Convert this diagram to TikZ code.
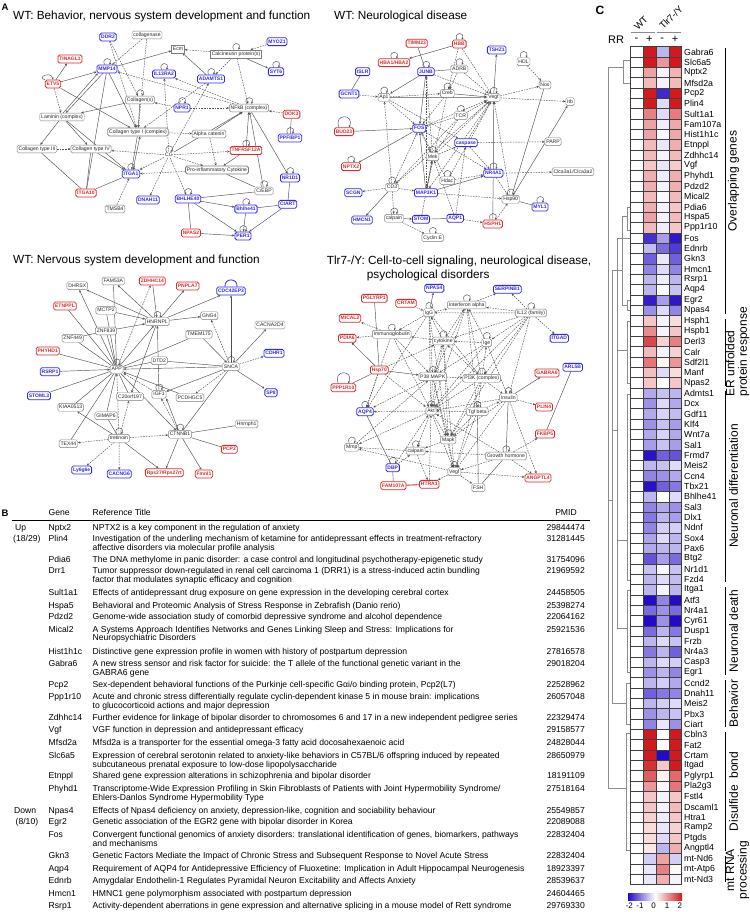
\documentclass[tikz,border=0pt]{standalone}
\usepackage{fontspec}
\setmainfont{Liberation Sans}
\usetikzlibrary{arrows.meta}
\pgfdeclarelayer{bg}
\pgfsetlayers{bg,main}
\definecolor{nblue}{RGB}{50,40,235}
\definecolor{nred}{RGB}{215,45,45}
\definecolor{ngray}{RGB}{125,125,125}
\definecolor{egray}{RGB}{80,80,80}
\definecolor{hmblue}{RGB}{35,10,200}
\definecolor{hmred}{RGB}{210,25,30}
\tikzset{
  gn/.style={draw=ngray, fill=white, rounded corners=1.6pt, line width=0.45pt, inner xsep=1.4pt, inner ysep=1.6pt, text height=3.7pt, text depth=1pt, font=\fontsize{5.1}{6}\selectfont, text=black!85},
  gb/.style={gn, line width=0.8pt},
  gr/.style={gn, rounded corners=0pt},
  bn/.style={gn, draw=nblue, text=nblue, line width=0.8pt, font=\fontsize{5}{6}\selectfont\bfseries},
  rn/.style={bn, draw=nred, text=nred},
  gt/.style={font=\fontsize{5.1}{6}\selectfont, inner sep=1pt, text=black!85},
  ea/.style={draw=egray, line width=0.45pt, -{Stealth[length=2.6pt,width=2.3pt]}},
  ed/.style={ea, dash pattern=on 1.6pt off 1.1pt},
  el/.style={draw=egray, line width=0.45pt},
  edl/.style={el, dash pattern=on 1.6pt off 1.1pt},
  lpst/.style={draw=egray, line width=0.45pt, -{Stealth[length=2.2pt,width=2pt]}},
  ttl/.style={font=\fontsize{11.8}{13}\selectfont, inner sep=0pt, anchor=west},
  plab/.style={font=\fontsize{9.5}{10}\selectfont\bfseries, inner sep=0pt},
  tc/.style={font=\fontsize{8.6}{9}\selectfont, inner sep=0pt, anchor=base west},
  tp/.style={tc, anchor=base east},
  hml/.style={font=\fontsize{8.8}{9}\selectfont, inner sep=0pt, anchor=west},
  grp/.style={font=\fontsize{12}{12.5}\selectfont, inner sep=0pt, rotate=90},
  dg/.style={draw=black!45, line width=0.6pt},
  gl/.style={draw=black, line width=0.6pt},
  cellgrid/.style={draw=black!75, line width=0.35pt},
}
\newcommand\nwloop[1]{\draw[lpst] ([xshift=-2.5pt]#1.north) .. controls +(-3.5,-8) and +(3.5,-8) .. ([xshift=2.5pt]#1.north);}
\newcommand\nwloopB[1]{\draw[lpst] ([xshift=-5pt]#1.north) .. controls +(-6,-14) and +(6,-14) .. ([xshift=5pt]#1.north);}
\newcommand\tabrow[5]{\node[tc] (tg#1) at (48.5,#2+3) {#3}; \node[tc] (tt#1) at (92.5,#2+3) {#4}; \node[tp] (tp#1) at (585,#2+3) {#5};}
\newcommand\tabsec[3]{\node[tc] (ts#1) at (92.5,#2+3) {#3};}
\newcommand\hmcell[3]{%
  \pgfmathsetmacro\hmp{min(100,abs(#3)*50)}%
  \pgfmathtruncatemacro\hmneg{(#3)<0?1:0}%
  \ifnum\hmneg=1 \def\hmc{hmblue}\else\def\hmc{hmred}\fi
  \fill[\hmc!\hmp!white] (#1,#2) rectangle ++(12.9,10.345);%
}
\begin{document}
\begin{tikzpicture}[x=1pt,y=-1pt]
\useasboundingbox (0,0) rectangle (749,912);
\begin{pgfonlayer}{bg}
\fill[white] (0,0) rectangle (749,912);
\end{pgfonlayer}

% ================= PANEL A =================
\node[plab] (labA) at (5,7) {A};
\node[ttl] (t1) at (13,16.7) {WT: Behavior, nervous system development and function};
\node[ttl] (t2) at (334,16.7) {WT: Neurological disease};
\node[ttl] (t3) at (13,260.7) {WT: Nervous system development and function};
\node[ttl] (t4) at (326.7,261) {Tlr7-/Y: Cell-to-cell signaling, neurological disease,};
\node[ttl] (t4b) at (366.7,275.5) {psychological disorders};

% ---- Network 1
\node[bn] (aDDR2) at (108,37) {DDR2};
\node[gn] (acoll) at (147,35) {collagenase};
\node[gr] (aEcm) at (178,49) {Ecm};
\node[gr, line width=0.8pt] (aCalc) at (236,54) {Calcineurin protein(s)};
\node[bn] (aMYOZ1) at (277,41.7) {MYOZ1};
\node[bn] (aSYT6) at (276,71.7) {SYT6};
\node[rn] (aTINAGL1) at (70,59) {TINAGL1};
\node[bn] (aMMP14) at (107,69) {MMP14};
\node[rn] (aETV5) at (53,84) {ETV5};
\node[bn] (aIL13) at (164,74) {IL13RA2};
\node[bn] (aADAM) at (211,79) {ADAMTS1};
\node[gn] (aColS) at (140,100) {Collagen(s)};
\node[bn] (aNPR1) at (182,108) {NPR1};
\node[gn] (aNFkB) at (249,108) {NFkB (complex)};
\node[rn] (aDOK3) at (291.5,114.3) {DOK3};
\node[gn] (aLam) at (62,117) {Laminin (complex)};
\node[gb] (aCol1) at (138,132) {Collagen type I (complex)};
\node[gn] (aAlpha) at (209,134) {Alpha catenin};
\node[bn] (aPPF) at (290,138) {PPFIBP1};
\node[rn] (aTNF) at (246,150.5) {TNFRSF12A};
\node[gn] (aCol3) at (37,149) {Collagen type III};
\node[gn] (aCol4) at (91,149) {Collagen type IV};
\node[gt] (aCG) at (169,155) {CG};
\node[gb] (aPro) at (217,170) {Pro-inflammatory Cytokine};
\node[bn] (aITGA1) at (131,174) {ITGA1};
\node[bn] (aNR1D1) at (290,178) {NR1D1};
\node[gn] (aCEBP) at (264,191) {C/EBP};
\node[rn] (aITGA10) at (86,193) {ITGA10};
\node[bn] (aDNAH11) at (148,200) {DNAH11};
\node[bn] (aBHLHE40) at (188,199) {BHLHE40};
\node[bn] (aCIART) at (287.7,204.3) {CIART};
\node[gn] (aTMSB4) at (115,209) {TMSB4};
\node[bn] (aBhlhe41) at (246,209) {Bhlhe41};
\node[rn] (aNPAS2) at (191,233) {NPAS2};
\node[bn] (aPER1) at (243,236) {PER1};

% ---- Network 2
\node[rn] (bTIMM23) at (416.7,43.3) {TIMM23};
\node[rn] (bHBB) at (459.3,44) {HBB};
\node[bn] (bTSHZ1) at (496.7,50) {TSHZ1};
\node[gn] (bHDL) at (523.5,61.7) {HDL};
\node[rn] (bHBA) at (394,62.7) {HBA1/HBA2};
\node[bn] (bISLR) at (362.7,71.7) {ISLR};
\node[bn] (bJUNB) at (426,71.7) {JUNB};
\node[gn] (bADRB) at (459.3,69) {ADRB};
\node[gn] (bNos) at (545,85) {Nos};
\node[bn] (bGCNT1) at (349,94) {GCNT1};
\node[gn] (bAp1) at (384,97.3) {Ap1};
\node[gn] (bCreb) at (447.3,93.3) {Creb};
\node[gn] (bVegf) at (493.5,97.5) {Vegf};
\node[gn] (bItb) at (570,101.7) {Itb};
\node[gn] (bTCR) at (460.7,115.7) {TCR};
\node[rn] (bBUD23) at (344,131.7) {BUD23};
\node[bn] (bFOS) at (419.3,128.3) {FOS};
\node[bn] (bcasp) at (466,142.7) {caspase};
\node[gn] (bPARP) at (553,141.7) {PARP};
\node[rn] (bNPTX2) at (351,166.7) {NPTX2};
\node[gn] (bMek) at (432.7,156.7) {Mek};
\node[bn] (bNR4A1) at (493.3,173.3) {NR4A1};
\node[gn] (bClca) at (573,171.7) {Clca3a1/Clca3a2};
\node[gn] (bHdac) at (447.3,180.7) {Hdac};
\node[gn] (bCD3) at (392,187.3) {CD3};
\node[bn] (bSCGN) at (353.3,192.7) {SCGN};
\node[bn] (bMAP3K1) at (426,192.7) {MAP3K1};
\node[gn] (bHsp90) at (510.7,199.3) {Hsp90};
\node[bn] (bMYL1) at (540,207) {MYL1};
\node[bn] (bHMCN1) at (362,220) {HMCN1};
\node[gn] (bcalp) at (394,218.3) {calpain};
\node[bn] (bSTOM) at (421,219.3) {STOM};
\node[bn] (bAQP1) at (455.3,218.3) {AQP1};
\node[rn] (bHSPH1) at (492.7,224) {HSPH1};
\node[gn] (bCycE) at (432.7,237.7) {Cyclin E};

% ---- Network 3
\node[gn] (cDHRSX) at (77.3,285.7) {DHRSX};
\node[gn] (cFAM53A) at (113.3,281) {FAM53A};
\node[rn] (cZDHHC14) at (152.3,281) {ZDHHC14};
\node[rn] (cPNPLA7) at (187.7,286) {PNPLA7};
\node[bn] (cCDC42EP3) at (231,291) {CDC42EP3};
\node[rn] (cETNPPL) at (65,306) {ETNPPL};
\node[gn] (cMCTP2) at (106,310.3) {MCTP2};
\node[gn] (cHNRNPL) at (157.3,321.7) {HNRNPL};
\node[gn] (cGNG4) at (209.3,315.7) {GNG4};
\node[gn] (cCACNA) at (270,325) {CACNA2D4};
\node[gn] (cZNF839) at (106,331) {ZNF839};
\node[gn] (cZNF449) at (72.7,338.3) {ZNF449};
\node[gn] (cTMEM) at (199,334.3) {TMEM175};
\node[rn] (cPHYHD1) at (47.7,351) {PHYHD1};
\node[gn] (cDTD2) at (159.3,360.7) {DTD2};
\node[gn] (cAPP) at (116.7,369.3) {APP};
\node[gn] (cSNCA) at (231,366.7) {SNCA};
\node[bn] (cCDHR1) at (274,353.3) {CDHR1};
\node[bn] (cRSRP1) at (50,371.7) {RSRP1};
\node[bn] (cSTOML3) at (39,395.7) {STOML3};
\node[gn] (cC20) at (130,396.7) {C20orf197};
\node[gn] (cIGF1) at (159,394.3) {IGF1};
\node[gn] (cPCDH) at (190,397.7) {PCDHGC5};
\node[bn] (cSP8) at (271,392.7) {SP8};
\node[gn] (cKIAA) at (70.7,407.3) {KIAA0513};
\node[gn] (cGIMAP6) at (106,415.7) {GIMAP6};
\node[gn] (cHnrnph1) at (246.7,424) {Hnrnph1};
\node[gn] (cCTNNB1) at (180,434.3) {CTNNB1};
\node[gn] (ctret) at (119,438.3) {tretinoin};
\node[gn] (cTEX44) at (68.3,443.7) {TEX44};
\node[rn] (cPCP2) at (229.3,449.3) {PCP2};
\node[bn] (cLy6) at (81.7,470) {Ly6g6e};
\node[bn] (cCACNG6) at (119.3,474) {CACNG6};
\node[rn] (cRps) at (164.3,472.7) {Rps27/Rps27rt};
\node[rn] (cFmnl1) at (204,474) {Fmnl1};

% ---- Network 4
\node[bn] (dNPAS4) at (434.3,288.3) {NPAS4};
\node[bn] (dSERP) at (507.3,289.3) {SERPINB1};
\node[rn] (dPGLY) at (374.3,298.3) {PGLYRP1};
\node[rn] (dCRTAM) at (406,303.3) {CRTAM};
\node[gn] (dIFNa) at (466.7,305) {Interferon alpha};
\node[gn] (dIgG) at (429,312.7) {IgG};
\node[gn] (dIL12) at (531,313) {IL12 (family)};
\node[rn] (dMICAL2) at (350,318.3) {MICAL2};
\node[gn] (dImm) at (391.7,334.3) {Immunoglobulin};
\node[gn] (dcyto) at (443.3,341) {cytokine};
\node[gn] (dIge) at (486.7,342.7) {Ige};
\node[rn] (dPDIA6) at (347.3,338.3) {PDIA6};
\node[bn] (dITGAD) at (559.3,338.3) {ITGAD};
\node[rn] (dHsp70) at (379.3,370) {Hsp70};
\node[gn] (dP38) at (432.7,376.7) {P38 MAPK};
\node[gn] (dPI3K) at (481.7,378.3) {PI3K (complex)};
\node[bn] (dARL5B) at (572.7,367.3) {ARL5B};
\node[rn] (dGABRA6) at (547,373) {GABRA6};
\node[rn] (dPPP1R10) at (343.3,387.7) {PPP1R10};
\node[gn] (dIns) at (508.3,397.7) {Insulin};
\node[rn] (dPLIN4) at (544,407) {PLIN4};
\node[bn] (dAQP4) at (365,411.7) {AQP4};
\node[gn] (dAkt) at (431,411) {Akt};
\node[gn] (dTgf) at (477.3,411.7) {Tgf beta};
\node[rn] (dFKBP5) at (545,434) {FKBP5};
\node[gn] (dMmp) at (351.7,447.3) {Mmp};
\node[gn] (dMapk) at (448.3,440) {Mapk};
\node[gn] (dcalp) at (415.7,451) {calpain};
\node[gn] (dGH) at (506,456) {Growth hormone};
\node[rn] (dANG) at (538,478) {ANGPTL4};
\node[bn] (dDBP) at (392.7,467.7) {DBP};
\node[gn] (dVegf) at (454.3,471.7) {Vegf};
\node[rn] (dFAM) at (393.3,485.7) {FAM107A};
\node[rn] (dHTRA1) at (429.3,484.3) {HTRA1};
\node[gn] (dFSH) at (478.3,487.7) {FSH};

\begin{pgfonlayer}{bg}
% net 1 edges
\draw[ea] (aETV5) -- (aTINAGL1);
\draw[ea] (aETV5) -- (aMMP14);
\draw[ed] (aETV5) -- (aLam);
\draw[ea] (aETV5) -- (aCol1);
\draw[ea] (aMMP14) -- (aEcm);
\draw[ea] (aMMP14) -- (aLam);
\draw[ea] ([xshift=1.2pt]aLam.north) -- ([xshift=1.2pt]aMMP14.south west);
\draw[ea] (aMMP14) -- (aCol1);
\draw[ed] (aDDR2) -- (aCol1);
\draw[ed] (aDDR2) -- (aColS);
\draw[ed] (acoll) -- (aCol1);
\draw[ed] (acoll) -- (aMMP14);
\draw[ed] (aCalc) -- (aEcm);
\draw[ea] (aADAM) -- (aEcm);
\draw[ed] (aMYOZ1) -- (aCalc);
\draw[ea] (aCalc) -- (aSYT6);
\draw[ed] (aCalc) -- (aNFkB);
\draw[ed] (aCalc) -- (aADAM);
\draw[ed] (aNFkB) -- (aIL13);
\draw[ed] (aNFkB) -- (aMMP14);
\draw[ed] (aNPR1) -- (aColS);
\draw[ed] (aNPR1) -- (aNFkB);
\draw[ed] (aCG) -- (aIL13);
\draw[ed] (aCG) -- (aADAM);
\draw[ea] (aCG) -- (aNFkB);
\draw[ed] (aCG) -- (aCol4);
\draw[ed] (aCG) -- (aITGA1);
\draw[ed] (aCG) -- (aDNAH11);
\draw[ed] (aCG) -- (aBHLHE40);
\draw[ed] (aCG) -- (aPro);
\draw[ed] (aCG) -- (aTNF);
\draw[ea] (aLam) -- (aCol3);
\draw[ea] (aLam) -- (aCol4);
\draw[ea] (aLam) -- (aITGA1);
\draw[ed] (aCol3) -- (aCol4);
\draw[ea] (aCol4) -- (aITGA1);
\draw[ea] (aCol1) -- (aITGA1);
\draw[ea] ([xshift=2pt]aITGA1.north) -- ([xshift=2pt]aCol1.south);
\draw[ed] (aCol1) -- (aAlpha);
\draw[ea] (aColS) -- (aLam);
\draw[ea] (aColS) -- (aCol1);
\draw[ea] (aAlpha) -- (aNFkB);
\draw[ed] (aAlpha) -- (aPro);
\draw[ed] (aADAM) -- (aCol1);
\draw[ed] (aPro) -- (aITGA1);
\draw[ea] (aTNF) -- (aNFkB);
\draw[ea] (aTNF) -- (aPro);
\draw[ed] (aDOK3) -- (aNFkB);
\draw[el] (aPPF) -- (aDOK3);
\draw[ea] (aNFkB) -- (aNR1D1);
\draw[ea] (aCEBP) -- (aNFkB);
\draw[el] (aCEBP) -- (aPro);
\draw[el] (aCEBP) -- (aBHLHE40);
\draw[ea] (aBHLHE40) -- (aBhlhe41);
\draw[ea] (aBHLHE40) -- (aPER1);
\draw[el] (aNPAS2) -- (aBHLHE40);
\draw[ea] (aNPAS2) -- (aPER1);
\draw[ea] (aBhlhe41) -- (aPER1);
\draw[ea] (aCIART) -- (aPER1);
\draw[el] (aCIART) -- (aNR1D1);
\draw[el] (aCIART) -- (aBhlhe41);
\draw[el] (aITGA10) -- (aCol3);
\draw[el] (aITGA10) -- (aCol4);
\draw[el] (aITGA10) -- (aMMP14);
\draw[el] (aITGA10) -- (aITGA1);
\draw[ed] (aTMSB4) -- (aITGA1);
\foreach \n in {aMMP14,aIL13,aNPR1,aColS,aNFkB,aTNF,aCalc,aSYT6,aPPF,aNR1D1,aCEBP,aITGA1,aBHLHE40,aBhlhe41,aPER1,aCG,aADAM} {\nwloop{\n}}
\draw[lpst] (aETV5.north west) .. controls +(-9,-2) and +(-2,-9) .. (aETV5.north);

% net 2 edges
\draw[ea] (bHBB) -- (bHBA);
\draw[el] (bTIMM23) -- (bJUNB);
\draw[ed] (bHBB) -- (bVegf);
\draw[ed] (bHBB) -- (bCreb);
\draw[el] (bJUNB) -- (bADRB);
\draw[ed] (bADRB) -- (bVegf);
\draw[ed] (bADRB) -- (bCreb);
\draw[ea] (bVegf) -- (bTSHZ1);
\draw[ed] (bHDL) -- (bNos);
\draw[ed] (bVegf) -- (bNos);
\draw[ed] (bVegf) -- (bItb);
\draw[el] (bGCNT1) -- (bISLR);
\draw[ed] (bGCNT1) -- (bAp1);
\draw[ea] (bJUNB) -- (bAp1);
\draw[ea] (bJUNB) -- (bFOS);
\draw[ea] (bAp1) -- (bVegf);
\draw[ed] (bAp1) -- (bFOS);
\draw[ed] (bCreb) -- (bFOS);
\draw[ea] (bCreb) -- (bVegf);
\draw[ed] (bTCR) -- (bFOS);
\draw[ed] (bTCR) -- (bVegf);
\draw[ea] (bBUD23) -- (bFOS);
\draw[ea] (bFOS) -- (bNPTX2);
\draw[ed] (bFOS) -- (bMek);
\draw[ed] (bFOS) -- (bNR4A1);
\draw[ed] (bcasp) -- (bNR4A1);
\draw[ed] (bcasp) -- (bPARP);
\draw[ed] (bcasp) -- (bVegf);
\draw[ea] (bNR4A1) -- (bVegf);
\draw[ed] (bNR4A1) -- (bHsp90);
\draw[ed] (bHsp90) -- (bVegf);
\draw[el] (bHsp90) -- (bNos);
\draw[ea] (bHsp90) -- (bItb);
\draw[ed] (bNR4A1) -- (bClca);
\draw[ed] (bCD3) -- (bSCGN);
\draw[ea] (bCD3) -- (bHMCN1);
\draw[ed] (bCD3) -- (bMAP3K1);
\draw[ed] (bCD3) -- (bFOS);
\draw[ed] (bCD3) -- (bAp1);
\draw[ed] (bCD3) -- (bcalp);
\draw[ea] (bMAP3K1) -- (bFOS);
\draw[ea] (bMAP3K1) -- (bMek);
\draw[ea] (bMAP3K1) -- (bNR4A1);
\draw[ed] (bMAP3K1) -- (bHsp90);
\draw[ed] (bMAP3K1) -- (bJUNB);
\draw[ea] (bcalp) -- (bSTOM);
\draw[ed] (bcalp) -- (bCycE);
\draw[el] (bSTOM) -- (bAQP1);
\draw[ed] (bAQP1) -- (bHSPH1);
\draw[ed] (bAQP1) -- (bcasp);
\draw[el] (bHSPH1) -- (bNR4A1);
\draw[ed] (bHSPH1) -- (bHsp90);
\draw[ed] (bHdac) -- (bFOS);
\draw[ed] (bHdac) -- (bNR4A1);
\draw[el] (bHsp90) -- (bMYL1);
\draw[ed] (bMek) -- (bcasp);
\draw[ed] (bMek) -- (bVegf);
\draw[ed] (bMek) -- (bJUNB);
\draw[ed] (bTCR) -- (bMek);
\draw[ed] (bTCR) -- (bCD3);
\draw[ed] (bAp1) -- (bCreb);
\draw[ed] (bFOS) -- (bVegf);
\draw[ed] (bJUNB) -- (bVegf);
\draw[ed] (bAp1) -- (bcasp);
\draw[ed] (bSTOM) -- (bMek);
\draw[ed] (bAQP1) -- (bMek);
\draw[ed] (bCreb) -- (bMAP3K1);
\draw[ed] (bVegf) -- (bMAP3K1);
\draw[ed] (bHdac) -- (bVegf);
\draw[ed] (bCD3) -- (bVegf);
\foreach \n in {bHBB,bHBA,bJUNB,bADRB,bHDL,bVegf,bAp1,bCreb,bTCR,bNPTX2,bMek,bNR4A1,bCD3,bHdac,bHsp90,bHSPH1,bCycE,bcalp,bMYL1} {\nwloop{\n}}
\nwloopB{bBUD23}

% net 3 edges
\draw[ea] (cAPP) -- (cDHRSX);
\draw[el] (cFAM53A) -- (cAPP);
\draw[el] (cETNPPL) -- (cAPP);
\draw[el] (cMCTP2) -- (cAPP);
\draw[el] (cZNF839) -- (cAPP);
\draw[el] (cZNF449) -- (cAPP);
\draw[el] (cPHYHD1) -- (cAPP);
\draw[ea] (cRSRP1) -- (cAPP);
\draw[el] (cSTOML3) -- (cAPP);
\draw[el] (cKIAA) -- (cAPP);
\draw[el] (cGIMAP6) -- (cAPP);
\draw[el] (cTEX44) -- (cAPP);
\draw[el] (cDTD2) -- (cAPP);
\draw[ea] (cSNCA) -- (cAPP);
\draw[el] (cTMEM) -- (cAPP);
\draw[ea] (cAPP) -- (cCTNNB1);
\draw[ed] (cIGF1) -- (cAPP);
\draw[el] (cC20) -- (cAPP);
\draw[ed] (ctret) -- (cAPP);
\draw[ed] (cAPP) -- (cZDHHC14);
\draw[ea] (cAPP) -- (cHNRNPL);
\draw[ea] (cHNRNPL) -- (cFAM53A);
\draw[ea] (cHNRNPL) -- (cDHRSX);
\draw[ea] (cZDHHC14) -- (cHNRNPL);
\draw[ea] (cHNRNPL) -- (cPNPLA7);
\draw[ea] (cHNRNPL) -- (cGNG4);
\draw[ea] (cHNRNPL) -- (cCDC42EP3);
\draw[ea] (cMCTP2) -- (cHNRNPL);
\draw[ea] (cZNF839) -- (cHNRNPL);
\draw[ea] (cHNRNPL) -- (cC20);
\draw[el] (cZNF449) -- (cZNF839);
\draw[ea] (cIGF1) -- (cHNRNPL);
\draw[ea] (cSNCA) -- (cCDC42EP3);
\draw[ed] (cSNCA) -- (cGNG4);
\draw[ea] (cTMEM) -- (cSNCA);
\draw[el] (cDTD2) -- (cSNCA);
\draw[ea] (cSNCA) -- (cCACNA);
\draw[ed] (cSNCA) -- (cCDHR1);
\draw[ea] (cSNCA) -- (cSP8);
\draw[ed] (cSNCA) -- (cPCDH);
\draw[ea] (cSNCA) -- (cIGF1);
\draw[el] (cSNCA) -- (cCTNNB1);
\draw[ed, {Stealth[length=2.6pt,width=2.3pt]}-{Stealth[length=2.6pt,width=2.3pt]}] (cIGF1) -- (cCTNNB1);
\draw[ed] (ctret) -- (cCTNNB1);
\draw[ea] (cCTNNB1) -- (cRps);
\draw[ea] (cCTNNB1) -- (cFmnl1);
\draw[el] (cCTNNB1) -- (cHnrnph1);
\draw[el] (cCTNNB1) -- (cPCP2);
\draw[ed] (ctret) -- (cTEX44);
\draw[ed] (ctret) -- (cLy6);
\draw[ed] (ctret) -- (cCACNG6);
\draw[ea] (ctret) -- (cRps);
\draw[ea] (ctret) -- (cKIAA);
\draw[ed] (ctret) -- (cC20);
\draw[el] (ctret) -- (cGIMAP6);
\draw[ea] (cPCDH) -- (cAPP);
\draw[ea] (cCTNNB1) -- (cIGF1.south east);
\foreach \n in {cHNRNPL,cAPP,cIGF1,cSNCA,cCTNNB1,ctret} {\nwloop{\n}}
\draw[draw=nblue, line width=0.8pt] ([xshift=-6pt]cCDC42EP3.north) .. controls +(-1,-9) and +(1,-9) .. ([xshift=6pt]cCDC42EP3.north);

% net 4 edges
\draw[ea] (dIgG) -- (dNPAS4);
\draw[ed] (dIFNa) -- (dSERP);
\draw[ed] (dIgG) -- (dIFNa);
\draw[ed] (dIL12) -- (dIFNa);
\draw[ed] (dIL12) -- (dIgG);
\draw[ed] (dIL12) -- (dSERP);
\draw[ed] (dIL12) -- (dITGAD);
\draw[ed] (dIL12) -- (dIge);
\draw[ed] (dIL12) -- (dcyto);
\draw[ed] (dIL12) -- (dPI3K);
\draw[ed] (dIL12) -- (dIns);
\draw[ed] (dImm) -- (dMICAL2);
\draw[ed] (dImm) -- (dPDIA6);
\draw[ed] (dIgG) -- (dImm);
\draw[el] (dPGLY) -- (dHsp70);
\draw[ed] (dCRTAM) -- (dIgG);
\draw[ed] (dcyto) -- (dImm);
\draw[ed] (dcyto) -- (dIgG);
\draw[ed] (dcyto) -- (dIFNa);
\draw[ed] (dIge) -- (dcyto);
\draw[ed] (dIge) -- (dIFNa);
\draw[ed] (dP38) -- (dcyto);
\draw[ed] (dPI3K) -- (dcyto);
\draw[ed] (dPI3K) -- (dIge);
\draw[ed] (dPI3K) -- (dIFNa);
\draw[ea] (dHsp70) -- (dPDIA6);
\draw[el] (dHsp70) -- (dPPP1R10);
\draw[ea] (dHsp70) -- (dP38);
\draw[ed] (dHsp70) -- (dAQP4);
\draw[ed] (dHsp70) -- (dAkt);
\draw[ed] (dHsp70) -- (dcyto);
\draw[ed] (dP38) -- (dPI3K);
\draw[ed] (dP38) -- (dAkt);
\draw[ed] (dPI3K) -- (dAkt);
\draw[ed] (dPI3K) -- (dIns);
\draw[ed] (dPI3K) -- (dTgf);
\draw[ea] (dIns) -- (dGABRA6);
\draw[ed] (dIns) -- (dPLIN4);
\draw[ed] (dIns) -- (dAkt);
\draw[el] (dIns) -- (dGH);
\draw[el] (dARL5B) -- (dFKBP5);
\draw[ed] (dGH) -- (dANG);
\draw[ed] (dGH) -- (dFKBP5);
\draw[ed] (dGH) -- (dVegf);
\draw[ed] (dGH) -- (dAkt);
\draw[ed] (dGH) -- (dcalp);
\draw[el] (dGH) -- (dFSH);
\draw[ed] (dTgf) -- (dAkt);
\draw[ed] (dTgf) -- (dVegf);
\draw[el] (dTgf) -- (dFSH);
\draw[ed] (dTgf) -- (dMapk);
\draw[ed] (dAkt) -- (dAQP4);
\draw[ed] (dAkt) -- (dMmp);
\draw[ed] (dAkt) -- (dcalp);
\draw[ed] (dAkt) -- (dMapk);
\draw[ed] (dAkt) -- (dVegf);
\draw[ed] (dMapk) -- (dVegf);
\draw[ed] (dMapk) -- (dcalp);
\draw[ed] (dcalp) -- (dMmp);
\draw[ed] (dcalp) -- (dHTRA1);
\draw[ed] (dVegf) -- (dHTRA1);
\draw[ed] (dVegf) -- (dFSH);
\draw[ed] (dVegf) -- (dANG);
\draw[ed] (dVegf) -- (dMmp);
\draw[el] (dAQP4) -- (dDBP);
\draw[el] (dDBP) -- (dFAM);
\draw[draw=nred, line width=0.9pt] (dFAM) -- (dHTRA1);
\draw[ed] (dP38) -- (dAQP4);
\draw[ed] (dImm) -- (dAQP4);
\draw[ed] (dImm) -- (dP38);
\draw[ed] (dIgG) -- (dAkt);
\draw[ed] (dIFNa) -- (dAkt);
\draw[ed] (dIFNa) -- (dP38);
\draw[ed] (dIL12) -- (dAkt);
\draw[ed] (dIL12) -- (dMapk);
\draw[ed] (dcyto) -- (dAkt);
\draw[ed] (dcyto) -- (dMapk);
\draw[ed] (dcyto) -- (dVegf);
\draw[ed] (dIge) -- (dAkt);
\draw[ed] (dIge) -- (dP38);
\draw[ed] (dP38) -- (dVegf);
\draw[ed] (dP38) -- (dMapk);
\draw[ed] (dPI3K) -- (dVegf);
\draw[ed] (dPI3K) -- (dMapk);
\draw[ed] (dIns) -- (dVegf);
\draw[ed] (dIns) -- (dMapk);
\draw[ed] (dIns) -- (dANG);
\draw[ed] (dIgG) -- (dP38);
\draw[ed] (dIgG) -- (dAQP4);
\draw[ed] (dIgG) -- (dPI3K);
\draw[ed] (dHTRA1) -- (dAkt);
\draw[ed] (dMmp) -- (dP38);
\draw[ed] (dDBP) -- (dcalp);
\draw[ed] (dDBP) -- (dAkt);
\draw[ed] (dIge) -- (dIns);
\draw[ed] (dImm) -- (dAkt);
\draw[ed] (dIgG) -- (dMapk);
\draw[ed] (dIFNa) -- (dTgf);
\draw[ed] (dTgf) -- (dIns);
\foreach \n in {dIgG,dIFNa,dIL12,dImm,dcyto,dIge,dP38,dPI3K,dAkt,dTgf,dIns,dMapk,dcalp,dVegf,dGH,dMmp,dAQP4,dDBP} {\nwloop{\n}}
\nwloopB{dPPP1R10}
\end{pgfonlayer}

% ================= PANEL B =================
\node[plab] (labB) at (5,513) {B};
\node[tc] (hGene) at (48.5,515.5) {Gene};
\node[tc] (hRef) at (92.5,515.5) {Reference Title};
\node[tc, anchor=base] (hPMID) at (566,515.5) {PMID};
\draw[black, line width=0.6pt] (12,520.5) -- (590,520.5);
\node[tc] (sUp) at (15,530) {Up};
\node[tc] (sUpn) at (13,541.5) {(18/29)};
\node[tc] (sDn) at (14,813) {Down};
\node[tc] (sDnn) at (15.5,824.7) {(8/10)};
\tabrow{1}{527}{Nptx2}{NPTX2 is a key component in the regulation of anxiety}{29844474}
\tabrow{2}{538.5}{Plin4}{Investigation of the underling mechanism of ketamine for antidepressant effects in treatment-refractory}{31281445}
\tabsec{2}{547.3}{affective disorders via molecular profile analysis}
\tabrow{3}{559}{Pdia6}{The DNA methylome in panic disorder: a case control and longitudinal psychotherapy-epigenetic study}{31754096}
\tabrow{4}{570.7}{Drr1}{Tumor suppressor down-regulated in renal cell carcinoma 1 (DRR1) is a stress-induced actin bundling}{21969592}
\tabsec{4}{579.5}{factor that modulates synaptic efficacy and cognition}
\tabrow{5}{592.3}{Sult1a1}{Effects of antidepressant drug exposure on gene expression in the developing cerebral cortex}{24458505}
\tabrow{6}{605}{Hspa5}{Behavioral and Proteomic Analysis of Stress Response in Zebrafish (Danio rerio)}{25398274}
\tabrow{7}{616.7}{Pdzd2}{Genome-wide association study of comorbid depressive syndrome and alcohol dependence}{22064162}
\tabrow{8}{629}{Mical2}{A Systems Approach Identifies Networks and Genes Linking Sleep and Stress: Implications for}{25921536}
\tabsec{8}{637.8}{Neuropsychiatric Disorders}
\tabrow{9}{651.7}{Hist1h1c}{Distinctive gene expression profile in women with history of postpartum depression}{27816578}
\tabrow{10}{663.3}{Gabra6}{A new stress sensor and risk factor for suicide: the T allele of the functional genetic variant in the}{29018204}
\tabsec{10}{672.1}{GABRA6 gene}
\tabrow{11}{684}{Pcp2}{Sex-dependent behavioral functions of the Purkinje cell-specific Gαi/o binding protein, Pcp2(L7)}{22528962}
\tabrow{12}{696.7}{Ppp1r10}{Acute and chronic stress differentially regulate cyclin-dependent kinase 5 in mouse brain: implications}{26057048}
\tabsec{12}{705.5}{to glucocorticoid actions and major depression}
\tabrow{13}{717.7}{Zdhhc14}{Further evidence for linkage of bipolar disorder to chromosomes 6 and 17 in a new independent pedigree series}{22329474}
\tabrow{14}{729.3}{Vgf}{VGF function in depression and antidepressant efficacy}{29158577}
\tabrow{15}{742.7}{Mfsd2a}{Mfsd2a is a transporter for the essential omega-3 fatty acid docosahexaenoic acid}{24828044}
\tabrow{16}{755.7}{Slc6a5}{Expression of cerebral serotonin related to anxiety-like behaviors in C57BL/6 offspring induced by repeated}{28650979}
\tabsec{16}{764.5}{subcutaneous prenatal exposure to low-dose lipopolysaccharide}
\tabrow{17}{775.7}{Etnppl}{Shared gene expression alterations in schizophrenia and bipolar disorder}{18191109}
\tabrow{18}{788.3}{Phyhd1}{Transcriptome-Wide Expression Profiling in Skin Fibroblasts of Patients with Joint Hypermobility Syndrome/}{27518164}
\tabsec{18}{797.1}{Ehlers-Danlos Syndrome Hypermobility Type}
\tabrow{19}{810}{Npas4}{Effects of Npas4 deficiency on anxiety, depression-like, cognition and sociability behaviour}{25549857}
\tabrow{20}{821.7}{Egr2}{Genetic association of the EGR2 gene with bipolar disorder in Korea}{22089088}
\tabrow{21}{834.3}{Fos}{Convergent functional genomics of anxiety disorders: translational identification of genes, biomarkers, pathways}{22832404}
\tabsec{21}{843.1}{and mechanisms}
\tabrow{22}{855.7}{Gkn3}{Genetic Factors Mediate the Impact of Chronic Stress and Subsequent Response to Novel Acute Stress}{22832404}
\tabrow{23}{868.3}{Aqp4}{Requirement of AQP4 for Antidepressive Efficiency of Fluoxetine: Implication in Adult Hippocampal Neurogenesis}{18923397}
\tabrow{24}{880}{Ednrb}{Amygdalar Endothelin-1 Regulates Pyramidal Neuron Excitability and Affects Anxiety}{28539637}
\tabrow{25}{893.3}{Hmcn1}{HMNC1 gene polymorphism associated with postpartum depression}{24604465}
\tabrow{26}{905.7}{Rsrp1}{Activity-dependent aberrations in gene expression and alternative splicing in a mouse model of Rett syndrome}{29769330}

% ================= PANEL C =================
\node[font=\fontsize{12}{13}\selectfont\bfseries, inner sep=0pt] (labC) at (600,10) {C};
\node[rotate=45, font=\fontsize{9.5}{10}\selectfont, inner sep=0pt] (hwt) at (641,23) {WT};
\node[rotate=45, font=\fontsize{9.5}{10}\selectfont, inner sep=0pt] (htlr) at (671,17.5) {Tlr7-/Y};
\draw[black!45, line width=1.2pt] (631,32.8) -- (654.5,32.8);
\draw[black!45, line width=1.2pt] (657,32.8) -- (681,32.8);
\node[font=\fontsize{11}{12}\selectfont, inner sep=0pt] (hrr) at (616,39.5) {RR};
\node[font=\fontsize{11}{12}\selectfont, inner sep=0pt] (hc1) at (636.4,39.5) {-};
\node[font=\fontsize{11}{12}\selectfont, inner sep=0pt] (hc2) at (649.3,39.5) {+};
\node[font=\fontsize{11}{12}\selectfont, inner sep=0pt] (hc3) at (662.2,39.5) {-};
\node[font=\fontsize{11}{12}\selectfont, inner sep=0pt] (hc4) at (675.1,39.5) {+};

\foreach \g/\a/\b/\c [count=\i] in {Gabra6/2/-0.6/2, Slc6a5/2/0.9/2, Nptx2/0.8/-0.1/0.65, Mfsd2a/0.6/-0.1/0.6, Pcp2/2/-1.75/2, Plin4/2/-0.3/2, Sult1a1/1.1/-0.3/1.15, Fam107a/0.8/-0.15/0.75, Hist1h1c/0.8/-0.05/0.75, Etnppl/0.6/-0.2/0.7, Zdhhc14/0.6/-0.1/0.6, Vgf/0.5/-0.2/0.45, Phyhd1/0.7/-0.15/0.7, Pdzd2/0.7/-0.1/0.7, Mical2/0.6/-0.05/0.6, Pdia6/0.7/-0.1/0.5, Hspa5/0.8/-0.1/0.6, Ppp1r10/0.6/-0.15/0.5, Fos/-1.7/-0.8/-1.9, Ednrb/-0.55/-1.2/-1.6, Gkn3/-1.3/-0.2/-1.3, Hmcn1/-1.0/-0.3/-1.0, Rsrp1/-0.6/-0.15/-0.6, Aqp4/-0.6/-0.05/-0.5, Egr2/-1.85/-0.8/-1.9, Npas4/-0.9/-0.3/-1.0, Hsph1/0.5/-0.1/0.3, Hspb1/1.0/-0.1/0.5, Derl3/1.6/0.4/1.1, Calr/0.6/-0.1/0.4, Sdf2l1/1.2/0.1/0.9, Manf/0.55/-0.3/0.3, Npas2/0.5/0.0/0.5, Admts1/-0.7/-0.5/-0.6, Dcx/-0.9/-0.3/-0.7, Gdf11/-0.7/-0.35/-0.55, Klf4/-0.9/-0.5/-0.8, Wnt7a/-0.7/-0.35/-0.7, Sal1/-0.8/-0.5/-0.8, Frmd7/-1.95/-1.3/-1.4, Meis2/-0.6/-0.5/-0.3, Ccn4/-1.0/-0.9/-0.7, Tbx21/-1.95/-1.3/-1.1, Bhlhe41/-0.6/0.0/-0.3, Sal3/-1.0/-0.7/-0.9, Dlx1/-1.1/-0.6/-0.8, Ndnf/-1.0/-0.4/-0.4, Sox4/-0.75/-0.3/-0.6, Pax6/-0.7/-0.6/-0.6, Btg2/-1.4/-0.8/-1.2, Nr1d1/-0.5/-0.05/-0.5, Fzd4/-0.6/-0.3/-0.55, Itga1/-0.6/-0.1/-0.6, Atf3/-2/-1.0/-2, Nr4a1/-1.2/-0.9/-1.2, Cyr61/-2/-0.9/-2, Dusp1/-1.2/-0.6/-1.1, Frzb/-0.6/-0.3/-0.5, Nr4a3/-1.1/-0.6/-1.3, Casp3/-0.6/-0.3/-0.4, Egr1/-0.9/-0.6/-1.0, Ccnd2/-0.6/-0.4/-0.7, Dnah11/-1.3/-1.1/-1.0, Meis2/-0.6/-0.4/-0.3, Pbx3/-0.9/-0.6/-0.5, Ciart/-1.0/-0.2/-0.9, Cbln3/2/0/2, Fat2/2/0/2, Crtam/2/-2/2, Itgad/1.8/0.5/2, Pglyrp1/1.4/0.1/1.3, Pla2g3/0.9/-0.05/1.2, Fstl4/0.5/-0.1/0.5, Dscaml1/0.5/-0.1/0.6, Htra1/0.4/-0.15/0.5, Ramp2/0.3/-0.2/0.4, Ptgds/0.3/-0.3/0.5, Angptl4/0.2/-0.6/0.7, mt-Nd6/-0.4/0.8/-0.4, mt-Atp6/-0.2/1.1/0.05, mt-Nd3/-0.2/0.7/-0.1} {
  \pgfmathsetmacro\yt{46.5+(\i-1)*10.345}
  \hmcell{642.9}{\yt}{\a}
  \hmcell{655.8}{\yt}{\b}
  \hmcell{668.7}{\yt}{\c}
  \node[hml] (hm\i) at (684,\yt+5.4) {\g};
}
\foreach \k in {0,...,81} {\draw[cellgrid] (630,{46.5+\k*10.345}) -- (681.6,{46.5+\k*10.345});}
\foreach \k in {0,...,4} {\draw[cellgrid] ({630+\k*12.9},46.5) -- ({630+\k*12.9},884.5);}

% dendrogram
\draw[dg] (630,60) -- (623,60) -- (623,83) -- (630,83);
\draw[dg] (623,67) -- (608,67) -- (608,788) -- (626,788);
\draw[dg] (630,733) -- (626,733) -- (626,850) -- (630,850);
\draw[dg] (630,207) -- (627,207) -- (627,230) -- (630,230);
\draw[dg] (627,216) -- (622,216) -- (622,305) -- (627,305);
\draw[dg] (630,300) -- (627,300) -- (627,310) -- (630,310);
\draw[dg] (630,238) -- (617,238) -- (617,628);
\draw[dg] (630,321) -- (627,321) -- (627,383) -- (630,383);
\draw[dg] (627,350) -- (617,350);
\draw[dg] (630,394) -- (627,394) -- (627,580) -- (630,580);
\draw[dg] (627,540) -- (617,540);
\draw[dg] (630,590) -- (627,590) -- (627,672) -- (630,672);
\draw[dg] (627,628) -- (617,628);
\draw[dg] (622,270) -- (612,270) -- (612,703);
\draw[dg] (630,683) -- (626,683) -- (626,724) -- (630,724);
\draw[dg] (626,703) -- (612,703);
\draw[dg] (612,430) -- (617,430);
\draw[dg] (608,500) -- (612,500);

% group brackets
\draw[gl] (725.7,48.5) -- (725.7,313.5);
\draw[gl] (725.7,318.5) -- (725.7,385.5);
\draw[gl] (725.7,390.5) -- (725.7,582);
\draw[gl] (725.7,587) -- (725.7,675);
\draw[gl] (725.7,680) -- (725.7,727);
\draw[gl] (725.7,732) -- (725.7,851);
\draw[gl] (725.7,856) -- (725.7,882);
\node[grp] (g1) at (733.5,181) {Overlapping genes};
\node[grp, align=left] (g2) at (737.5,351.7) {ER unfolded\\protein response};
\node[grp] (g3) at (733.5,486) {Neuronal differentiation};
\node[grp] (g4) at (733.5,631) {Neuronal death};
\node[grp] (g5) at (733.5,703.5) {Behavior};
\node[grp] (g6) at (733.5,791.5) {Disulfide~~bond};
\node[grp, align=center] (g7) at (737.5,870) {mt RNA\\processing};

% colour bar
\shade[left color=hmblue, right color=white] (628,893) rectangle (655,900.5);
\shade[left color=white, right color=hmred] (655,893) rectangle (682,900.5);
\foreach \t/\xx [count=\j] in {-2/629.3,-1/640,0/653.5,1/667,2/679.8} {
  \node[font=\fontsize{8}{9}\selectfont, inner sep=0pt] (cb\j) at (\xx,905.8) {\t};
}
\end{tikzpicture}
\end{document}
